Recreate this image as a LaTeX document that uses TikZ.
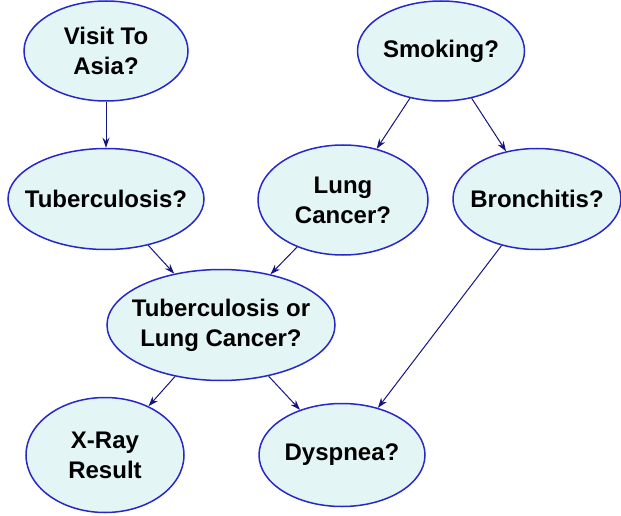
\documentclass[tikz,border=0pt]{standalone}
\usepackage{fontspec}
\setmainfont{Liberation Sans}
\usetikzlibrary{shapes.geometric, arrows, arrows.meta, positioning}
\definecolor{nodefill}{RGB}{227,245,245}
\definecolor{nodeline}{RGB}{40,40,200}
\definecolor{arrowline}{RGB}{20,20,130}
\tikzstyle{arrow} = [line width=1pt, draw=arrowline, -{Stealth[length=10pt,width=7pt]}]
\tikzstyle{chance} = [ellipse, draw=nodeline, fill=nodefill, line width=1.5pt, inner sep=0pt]
\tikzset{every label/.style={align=center, text=black, font=\fontsize{24}{30}\selectfont\bfseries}}

\begin{document}
\begin{tikzpicture}[x=1pt, y=-1pt]
\useasboundingbox (0,0) rectangle (621,516);
%----------------------------------------------------------------------------
% Placement of network nodes
\node (visitAsia) [chance, minimum width=164pt, minimum height=100pt, label={center:Visit To\\Asia?}] at (106,51) {};
\node (tuberc) [chance, below of=visitAsia, node distance=148pt, minimum width=196pt, minimum height=101pt, label={center:Tuberculosis?}] {};

\node (smoking) [chance, right of=visitAsia, node distance=335pt, minimum width=167pt, minimum height=100pt, label={center:Smoking?}] {};
\node (lungCancer) [chance, below of=smoking, node distance=149pt, xshift=-98pt, minimum width=170pt, minimum height=110pt, label={center:Lung\\Cancer?}] {};
\node (bronchitis) [chance, below of=smoking, node distance=148pt, xshift=96pt, minimum width=168pt, minimum height=101pt, label={center:Bronchitis?}] {};

\node (tubOrCancer) [chance, below of=tuberc, node distance=126pt, xshift=115pt, minimum width=228pt, minimum height=111pt, label={center:Tuberculosis or\\Lung Cancer?}] {};
\node (xRay) [chance, below of=tubOrCancer, node distance=130pt, xshift=-116pt, minimum width=158pt, minimum height=115pt, label={center:X-Ray\\Result}] {};
\node (dyspnea) [chance, below of=tubOrCancer, node distance=130pt, xshift=121pt, minimum width=166pt, minimum height=103pt, label={center:Dyspnea?}] {};

%----------------------------------------------------------------------------
% Lines
\draw [arrow] (visitAsia) -- (tuberc);
\draw [arrow] (smoking) -- (lungCancer);
\draw [arrow] (smoking) -- (bronchitis);
\draw [arrow] (tuberc) -- (tubOrCancer);
\draw [arrow] (lungCancer) -- (tubOrCancer);
\draw [arrow] (tubOrCancer) -- (xRay);
\draw [arrow] (tubOrCancer) -- (dyspnea);
\draw [arrow] (bronchitis) -- (dyspnea);
\end{tikzpicture}
\end{document}
